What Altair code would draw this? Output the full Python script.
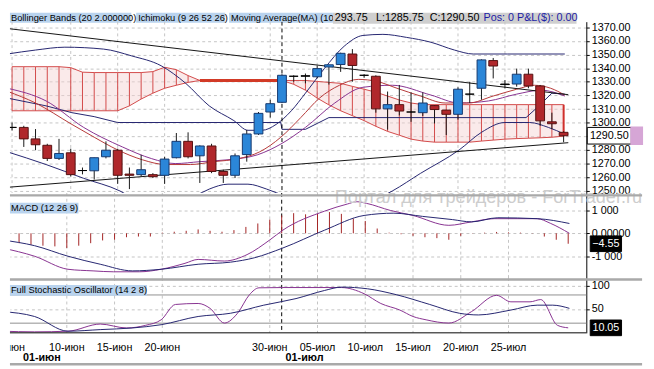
import altair as alt
import numpy as np
import pandas as pd

FONT = "Liberation Sans"

# ---------------- data ----------------
IDX = list(range(48))
OPEN = [1296.6, 1296.6, 1288.2, 1283.5, 1273.9, 1278.0, 1265.0, 1264.8, 1275.1, 1279.9,
        1262.4, 1262.0, 1262.0, 1261.5, 1274.4, 1286.4, 1275.8, 1283.0, 1264.3, 1261.5,
        1276.7, 1291.8, 1307.9, 1315.0, 1334.1, 1334.1, 1333.7, 1340.9, 1342.7, 1350.4,
        1334.8, 1334.1, 1310.2, 1313.3, 1307.9, 1307.4, 1312.6, 1309.3, 1306.2, 1321.0,
        1325.3, 1345.6, 1328.4, 1328.4, 1335.6, 1327.0, 1300.7, 1293.0]
HIGH = [1300.2, 1297.8, 1295.4, 1284.6, 1288.2, 1281.0, 1267.2, 1274.4, 1286.4, 1281.0,
        1267.2, 1276.5, 1263.1, 1275.1, 1292.5, 1293.0, 1283.5, 1284.6, 1265.6, 1277.5,
        1294.7, 1307.9, 1316.9, 1335.6, 1334.8, 1336.1, 1341.8, 1342.5, 1351.4, 1354.0,
        1335.6, 1334.8, 1322.9, 1327.7, 1322.2, 1322.2, 1313.0, 1309.5, 1326.0, 1330.0,
        1346.5, 1347.5, 1331.3, 1339.7, 1339.7, 1327.7, 1307.4, 1293.75]
LOW = [1294.3, 1282.3, 1279.9, 1272.0, 1272.7, 1260.7, 1262.2, 1258.4, 1273.9, 1255.2,
       1251.4, 1260.7, 1259.5, 1255.2, 1273.9, 1273.9, 1255.9, 1263.1, 1255.9, 1259.5,
       1271.5, 1291.1, 1303.8, 1314.5, 1330.1, 1328.9, 1332.5, 1328.0, 1337.3, 1330.1,
       1333.0, 1307.4, 1295.0, 1305.4, 1300.7, 1305.0, 1299.5, 1291.0, 1302.3, 1314.5,
       1316.9, 1332.5, 1325.3, 1326.5, 1325.3, 1297.8, 1295.4, 1285.75]
CLOSE = [1296.6, 1288.2, 1283.9, 1273.9, 1277.5, 1262.0, 1265.0, 1274.4, 1279.9, 1261.5,
         1261.5, 1265.6, 1260.5, 1273.4, 1286.4, 1275.1, 1283.0, 1264.3, 1261.5, 1275.8,
         1291.8, 1306.9, 1314.0, 1334.8, 1334.1, 1334.5, 1339.7, 1342.5, 1350.9, 1342.0,
         1334.8, 1310.2, 1313.3, 1308.6, 1307.9, 1314.5, 1309.7, 1306.2, 1324.6, 1321.0,
         1346.1, 1341.6, 1328.0, 1335.6, 1327.0, 1301.4, 1299.3, 1290.5]

CLOUD_TOP = [1341.1, 1341.1, 1341.1, 1341.1, 1341.1, 1340.4, 1337.1, 1336.8, 1336.8, 1336.8,
             1336.8, 1336.8, 1337.5, 1340.7, 1338.9, 1334.6, 1331.0, 1331.0, 1331.0, 1331.0,
             1331.0, 1331.0, 1331.0, 1331.0, 1331.0, 1331.0, 1330.3, 1329.6, 1328.9, 1326.7,
             1324.6, 1322.4, 1319.6, 1316.7, 1314.5, 1313.3, 1313.3, 1313.3, 1313.3, 1313.3,
             1313.3, 1313.3, 1313.3, 1313.3, 1313.3, 1313.3, 1313.3, 1313.3]
CLOUD_BOT = [1308.8, 1308.8, 1308.8, 1308.8, 1308.8, 1308.8, 1308.8, 1308.8, 1308.8, 1308.8,
             1312.4, 1317.4, 1321.7, 1325.3, 1327.5, 1329.6, 1331.0, 1331.0, 1331.0, 1331.0,
             1331.0, 1331.0, 1331.0, 1331.0, 1328.2, 1323.9, 1318.1, 1313.1, 1308.8, 1305.2,
             1301.6, 1297.4, 1293.7, 1290.9, 1288.0, 1286.6, 1285.8, 1285.8, 1285.8, 1285.8,
             1286.6, 1287.3, 1288.0, 1288.4, 1288.7, 1289.0, 1289.4, 1290.2]

UPPER_I = [-0.4, 2.0, 4.5, 7.8, 10.2, 12.7, 14.8, 16.8, 18.9, 20.1, 21.3, 22.5, 23.8, 25.0,
           26.6, 28.3, 29.9, 31.6, 33.6, 35.7, 37.7, 39.3, 42.2, 47.1]
UPPER_V = [1350.4, 1353.3, 1355.4, 1354.0, 1349.0, 1341.8, 1328.9, 1312.4, 1301.6, 1294.5,
           1294.5, 1298.8, 1308.8, 1321.7, 1339.6, 1356.1, 1364.0, 1364.8, 1362.6, 1359.0,
           1353.3, 1350.4, 1350.4, 1350.4]
LOWER_I = [-0.4, 2.9, 6.1, 9.2, 10.7, 12.7, 15.6, 16.8, 18.4, 20.1, 21.7, 23.4, 26.6, 30.7,
           32.4, 34.8, 38.1, 40.0, 42.0, 44.1, 45.7, 47.1]
LOWER_V = [1278.7, 1269.4, 1259.3, 1250.0, 1242.8, 1239.2, 1246.4, 1251.4, 1255.0, 1255.0,
           1251.4, 1245.7, 1235.6, 1242.8, 1250.0, 1262.9, 1280.1, 1293.0, 1300.2, 1300.2,
           1296.6, 1291.6]
KIJUN_I = [-0.4, 2.9, 5.1, 7.0, 9.0, 22.9, 23.0, 25.0, 26.0, 27.0, 43.8, 44.9, 46.0, 47.1]
KIJUN_V = [1318.1, 1312.4, 1307.4, 1304.5, 1300.2, 1300.2, 1295.2, 1295.2, 1299.5, 1303.8,
           1303.8, 1312.4, 1321.7, 1321.0]
MA_I = [-0.4, 2.0, 5.1, 7.0, 9.0, 11.1, 13.1, 15.2, 17.2, 19.3, 21.1, 22.9, 24.6, 26.2, 27.9,
        29.5, 31.1, 32.8, 34.8, 36.9, 38.9, 41.0, 43.0, 44.5, 45.9, 47.1]
MA_V = [1323.1, 1314.5, 1298.8, 1289.4, 1280.1, 1272.9, 1269.4, 1269.4, 1271.5, 1273.7,
        1278.7, 1289.4, 1303.8, 1318.1, 1327.5, 1331.8, 1330.3, 1325.3, 1319.6, 1314.5,
        1314.5, 1319.6, 1324.6, 1327.5, 1325.3, 1320.3]
MID_I = [-0.4, 2.9, 6.1, 9.4, 11.9, 13.9, 16.0, 18.4, 20.9, 22.9, 25.0, 27.5, 29.9, 32.4,
         35.7, 38.1, 40.6, 43.0, 45.1, 47.1]
MID_V = [1325.3, 1316.0, 1296.6, 1282.3, 1273.7, 1270.1, 1271.5, 1272.9, 1276.5, 1284.4,
         1296.6, 1314.5, 1326.0, 1327.5, 1320.3, 1314.5, 1316.0, 1321.0, 1323.9, 1319.6]
TREND_HI_I = [-0.4, 47.4]
TREND_HI_V = [1369.1, 1320.6]
TREND_LO_I = [-0.4, 47.4]
TREND_LO_V = [1252.7, 1285.4]

MACD_HIST = [-3.6, -4.3, -5.0, -5.4, -5.7, -6.4, -5.4, -4.3, -3.1, -2.8,
             -1.7, -1.4, -1.4, 0.3, 0.7, 1.1, 1.7, 1.1, 0.7, 1.4,
             2.8, 4.3, 6.0, 7.8, 8.8, 8.3, 8.5, 9.3, 8.5, 6.4,
             5.4, 2.1, 0.3, -0.4, -1.1, -1.7, -2.1, -2.8, -1.1, 0.1,
             0.3, 0.6, 0.4, 0.3, -0.1, -1.4, -2.8, -4.55]
MACD_I = [-0.4, 2.3, 5.1, 7.2, 8.9, 11.1, 12.9, 14.9, 16.0, 18.2, 20.1, 22.0, 23.1, 26.6,
          28.5, 29.3, 30.1, 32.1, 34.0, 37.0, 38.9, 40.8, 44.4, 45.5, 47.1]
MACD_V = [-6.4, -10.0, -15.7, -16.4, -16.8, -16.8, -15.7, -13.1, -11.4, -12.1, -9.3, -2.9,
          1.4, 9.7, 12.8, 13.8, 13.1, 10.0, 7.8, 3.5, 5.0, 6.4, 6.4, 4.4, 0.0]
SIGNAL_I = [-0.4, 2.3, 5.1, 7.8, 10.5, 12.9, 16.0, 18.7, 20.7, 23.1, 26.6, 29.9, 32.4, 34.8,
            37.3, 38.9, 41.1, 44.4, 47.1]
SIGNAL_V = [-2.9, -5.4, -10.0, -13.5, -16.4, -15.7, -13.5, -12.6, -10.7, -6.4, 1.4, 7.8, 8.8,
            7.4, 6.0, 5.0, 6.8, 6.4, 4.3]

STOCH_K_I = [-0.4, 2.3, 5.1, 7.8, 10.0, 11.6, 12.9, 14.1, 16.0, 17.0, 18.2, 19.3, 20.3, 21.1,
             23.1, 28.0, 29.9, 31.3, 32.9, 34.0, 35.1, 37.0, 38.9, 41.0, 42.2, 43.8, 44.7,
             46.1, 47.0]
STOCH_K_V = [2.9, 1.5, 2.9, 18.1, 9.8, 15.4, 27.1, 59.8, 61.9, 51.5, 20.2, 41.0, 80.6, 95.2,
             95.8, 95.8, 82.7, 61.9, 47.9, 34.2, 27.1, 20.2, 44.6, 79.2, 65.4, 65.4, 70.2,
             15.4, 10.05]
STOCH_D_I = [-0.4, 2.3, 5.1, 7.8, 10.5, 12.9, 16.0, 18.7, 21.5, 24.2, 26.6, 28.0, 30.2, 32.6,
             35.4, 37.9, 39.5, 42.2, 44.4, 45.7, 47.1]
STOCH_D_V = [44.6, 34.2, 2.9, 6.3, 9.8, 16.7, 34.2, 41.0, 58.3, 72.3, 89.6, 96.7, 93.1, 80.6,
             59.8, 41.0, 37.5, 47.9, 58.3, 58.3, 51.5]
STOCH_LEVELS = [80, 20]

GRID_IDX = [0, 5, 9, 13, 22, 26, 30, 34, 38, 42]
GRID_TXT = ["05-июн", "10-июн", "15-июн", "20-июн", "30-июн", "05-июл", "10-июл",
            "15-июл", "20-июл", "25-июл"]
MONTH_IDX = [1, 23]
MONTH_TXT = ["01-июн", "01-июл"]
PRICE_TICKS = [1250, 1260, 1270, 1280, 1290, 1300, 1310, 1320, 1330, 1340, 1350, 1360, 1370]
MACD_TICKS = [10, 0, -10]
STOCH_TICKS = [100, 50]

HEADER_LABELS = ["Bollinger Bands (20 2.000000)", "Ichimoku (9 26 52 26)",
                 "Moving Average(MA) (10)"]
QUOTE_TXT = ["293.75", "L:1285.75", "C:1290.50"]
POS_TXT = "Pos: 0 P&L($): 0.00"
MACD_TITLE = "MACD (12 26 9)"
STOCH_TITLE = "Full Stochastic Oscillator (14 2 8)"
WATERMARK = "Портал для трейдеров - ForTrader.ru"

# ---------------- layout / style ----------------
W = 589
X_DOMAIN = [0.2377, 48.517]
MAIN_DOMAIN = [1248.6, 1374.1]
MACD_DOMAIN = [-19.53, 17.65]
STOCH_DOMAIN = [-0.6, 116.0]
H_HEAD, H_MAIN, H_MACD, H_STOCH, H_LAB = 9, 175, 87, 56, 34

BLUE, BLUE_EDGE = "#2b86d8", "#17386e"
RED, RED_EDGE = "#b0272b", "#541010"
NAVY, PURPLE, MA_RED = "#23236f", "#86308f", "#b43636"
CLOUD = "#d24848"
GRIDC, SEP, LABEL_BG = "#c4c4c4", "#a9a9a9", "#b9d3ee"

XS = alt.Scale(domain=X_DOMAIN, nice=False, zero=False)


def xq(f="i"):
    return alt.X(f"{f}:Q", scale=XS, axis=None)


def axis(values, **kw):
    return alt.Axis(orient="right", values=values, title=None, labelFont=FONT,
                    labelFontSize=11, labelColor="black", tickColor="black", tickSize=3,
                    labelPadding=2, domainColor="black", grid=True, gridColor=GRIDC,
                    gridDash=[3, 3], labelOverlap=False, labelFlush=False, **kw)


def make_y(domain, ax):
    sc = alt.Scale(domain=domain, nice=False, zero=False)

    def y(f):
        return alt.Y(f"{f}:Q", scale=sc, axis=ax)
    return y


ym = make_y(MAIN_DOMAIN, axis(PRICE_TICKS, format=".2f"))
yd = make_y(MACD_DOMAIN, axis(MACD_TICKS, labelExpr="datum.value == 0 ? '0.00000' : (datum.value > 0 ? '1 000' : '-1 000')"))
ys = make_y(STOCH_DOMAIN, axis(STOCH_TICKS, format="d"))

one = pd.DataFrame({"d": [0]})


def pts(I, V):
    return pd.DataFrame({"i": I, "v": V})


def line(I, V, color, yf, interp="monotone", width=1.0):
    return alt.Chart(pts(I, V)).mark_line(color=color, strokeWidth=width, interpolate=interp,
                                           clip=True).encode(x=xq(), y=yf("v"))


def rect(x1, x2, y1, y2, color):
    return alt.Chart(one).mark_rect(color=color).encode(
        x=alt.value(x1), x2=alt.value(x2), y=alt.value(y1), y2=alt.value(y2))


def label(s, x, y, size=9.5, color="black", weight="normal"):
    return alt.Chart(one).mark_text(text=s, align="left", baseline="middle", font=FONT,
                                    fontSize=size, color=color, fontWeight=weight).encode(
        x=alt.value(x), y=alt.value(y))


def sep(y):
    return alt.Chart(one).mark_rule(color=SEP, strokeWidth=2.5).encode(
        x=alt.value(0), x2=alt.value(646), y=alt.value(y))


def tag(value, yf, cx, hw, hh, fill, stroke, tcolor):
    df = pd.DataFrame({"v": [value]})
    r = hh / hw
    box = alt.Chart(df).mark_point(
        shape=f"M-1,-{r:.4f}L1,-{r:.4f}L1,{r:.4f}L-1,{r:.4f}Z", size=(2 * hw) ** 2,
        filled=True, fill=fill, stroke=stroke, strokeWidth=1, opacity=1, fillOpacity=1
    ).encode(x=alt.value(cx), y=yf("v"))
    txt = alt.Chart(df).mark_text(font=FONT, fontSize=11, color=tcolor, align="center",
                                  baseline="middle").encode(
        x=alt.value(cx), y=yf("v"), text=alt.Text("v:Q", format=".2f"))
    return box, txt


grid_df = pd.DataFrame({"i": GRID_IDX, "t": GRID_TXT})
month_df = pd.DataFrame({"i": MONTH_IDX, "t": MONTH_TXT})
vgrid = alt.Chart(grid_df).mark_rule(color=GRIDC, strokeDash=[3, 3], clip=True).encode(x=xq())
month_rule = alt.Chart(month_df.iloc[1:]).mark_rule(color="black", strokeDash=[4, 3],
                                                   clip=True).encode(x=xq())

# ---------------- header ----------------
header = alt.layer(
    rect(0, 124, 0, 10, LABEL_BG), rect(129, 220, 0, 10, LABEL_BG), rect(224, 330, 0, 10, LABEL_BG),
    label(HEADER_LABELS[0], 1, 5), label(HEADER_LABELS[1], 131, 5), label(HEADER_LABELS[2], 226, 5),
    rect(330, 579, 0, 11, "#cfcfcf"),
    label(QUOTE_TXT[0], 332, 5.5, 11), label(QUOTE_TXT[1], 374, 5.5, 11),
    label(QUOTE_TXT[2], 429, 5.5, 11), label(POS_TXT, 484, 5.5, 11, "#1c1ca6"),
).properties(width=W, height=H_HEAD)

# ---------------- main panel ----------------
cdf = pd.DataFrame({"i": IDX, "open": OPEN, "high": HIGH, "low": LOW, "close": CLOSE})
cdf["dir"] = np.where(cdf["close"] > cdf["open"] + 0.5, "up",
                      np.where(cdf["close"] < cdf["open"] - 0.5, "down", "doji"))
cloud_df = pd.DataFrame({"i": IDX, "top": CLOUD_TOP, "bot": CLOUD_BOT})

cloud_area = alt.Chart(cloud_df).mark_area(color="#f3d0d0", opacity=0.45, clip=True).encode(
    x=xq(), y=ym("top"), y2="bot")
hatch = alt.Chart(cloud_df).mark_rule(color=CLOUD, strokeWidth=1, clip=True).encode(
    x=xq(), y=ym("top"), y2="bot")
edge = alt.Chart(cloud_df).transform_filter(f"datum.i == {IDX[-1]}").mark_rule(
    color="#d0302c", strokeWidth=2, clip=True).encode(x=xq(), y=ym("top"), y2="bot")
ctop = alt.Chart(cloud_df).mark_line(color=CLOUD, strokeWidth=1, clip=True).encode(x=xq(), y=ym("top"))
cbot = alt.Chart(cloud_df).mark_line(color=CLOUD, strokeWidth=1, clip=True).encode(x=xq(), y=ym("bot"))
flat = alt.Chart(cloud_df).transform_filter("datum.top == datum.bot").mark_line(
    color="#d23a26", strokeWidth=3, clip=True).encode(x=xq(), y=ym("top"))

dirs = ["up", "down", "doji"]
wicks = alt.Chart(cdf).mark_rule(color="#151515", strokeWidth=1, clip=True).encode(
    x=xq(), y=ym("low"), y2="high")
bodies = alt.Chart(cdf).mark_bar(size=9, strokeWidth=1, clip=True).encode(
    x=xq(), y=ym("open"), y2="close",
    fill=alt.Fill("dir:N", scale=alt.Scale(domain=dirs, range=[BLUE, RED, "#151515"]), legend=None),
    stroke=alt.Stroke("dir:N", scale=alt.Scale(domain=dirs, range=[BLUE_EDGE, RED_EDGE, "#000000"]),
                      legend=None))

mbox, mtxt = tag(CLOSE[-1], ym, 612.5, 22.5, 8.5, "white", "black", "black")
pink = alt.Chart(pd.DataFrame({"v": [CLOSE[-1]]})).mark_point(
    shape="M-1,-1.545L1,-1.545L1,1.545L-1,1.545Z", size=121, filled=True, fill="#d6a6d6",
    stroke="#d6a6d6", opacity=1).encode(x=alt.value(640.5), y=ym("v"))

main = alt.layer(
    vgrid, cloud_area, hatch, edge, ctop, cbot, flat,
    line(UPPER_I, UPPER_V, NAVY, ym), line(LOWER_I, LOWER_V, NAVY, ym),
    line(KIJUN_I, KIJUN_V, NAVY, ym, interp="linear"),
    line(MID_I, MID_V, PURPLE, ym), line(MA_I, MA_V, MA_RED, ym),
    line(TREND_HI_I, TREND_HI_V, "#111111", ym, interp="linear"),
    line(TREND_LO_I, TREND_LO_V, "#111111", ym, interp="linear"),
    month_rule, wicks, bodies, mbox, mtxt, pink,
).properties(width=W, height=H_MAIN)

# ---------------- MACD panel ----------------
hist = alt.Chart(pd.DataFrame({"i": IDX, "h": MACD_HIST})).mark_rule(
    color="#a32222", strokeWidth=1, clip=True).encode(x=xq(), y=yd("h"), y2=alt.datum(0))
dbox, dtxt = tag(MACD_HIST[-1], yd, 609, 16, 8, "black", "black", "white")
watermark = alt.Chart(one).mark_text(text=WATERMARK, font=FONT, fontSize=18.5, color="#cdcdcd",
                                     align="left", baseline="middle").encode(
    x=alt.value(332), y=alt.value(4))
macd = alt.layer(
    vgrid, month_rule, hist,
    line(MACD_I, MACD_V, PURPLE, yd), line(SIGNAL_I, SIGNAL_V, NAVY, yd),
    rect(0, 70, 10, 21, LABEL_BG), label(MACD_TITLE, 1, 15.5),
    watermark, sep(2.5), dbox, dtxt,
).properties(width=W, height=H_MACD)

# ---------------- Stochastic panel ----------------
levels = alt.Chart(pd.DataFrame({"v": STOCH_LEVELS})).mark_rule(color="#8e8e8e").encode(y=ys("v"))
sbox, stxt = tag(STOCH_K_V[-1], ys, 609, 16, 8, "black", "black", "white")
xline = alt.Chart(one).mark_rule(color="black").encode(y=alt.value(H_STOCH))
stoch = alt.layer(
    vgrid, month_rule, levels,
    line(STOCH_K_I, STOCH_K_V, PURPLE, ys), line(STOCH_D_I, STOCH_D_V, NAVY, ys),
    xline, rect(0, 140, 7, 18, LABEL_BG), label(STOCH_TITLE, 1, 12.5),
    sep(1.5), sbox, stxt,
).properties(width=W, height=H_STOCH)

# ---------------- date labels ----------------
days = alt.Chart(grid_df).mark_text(font=FONT, fontSize=11, color="black", align="center",
                                    baseline="middle", clip=True).encode(
    x=xq(), y=alt.value(16), text="t:N")
months = alt.Chart(month_df).mark_text(font=FONT, fontSize=11, fontWeight="bold", color="black",
                                       align="left", dx=4, baseline="middle", clip=True).encode(
    x=xq(), y=alt.value(26), text="t:N")
labels = alt.layer(days, months, sep(32)).properties(width=W, height=H_LAB)

chart = alt.vconcat(header, main, macd, stoch, labels, spacing=0, bounds="flush").properties(
    padding=0).configure_view(strokeWidth=0)

chart.save("out.html", embed_options={"renderer": "svg", "actions": False})
